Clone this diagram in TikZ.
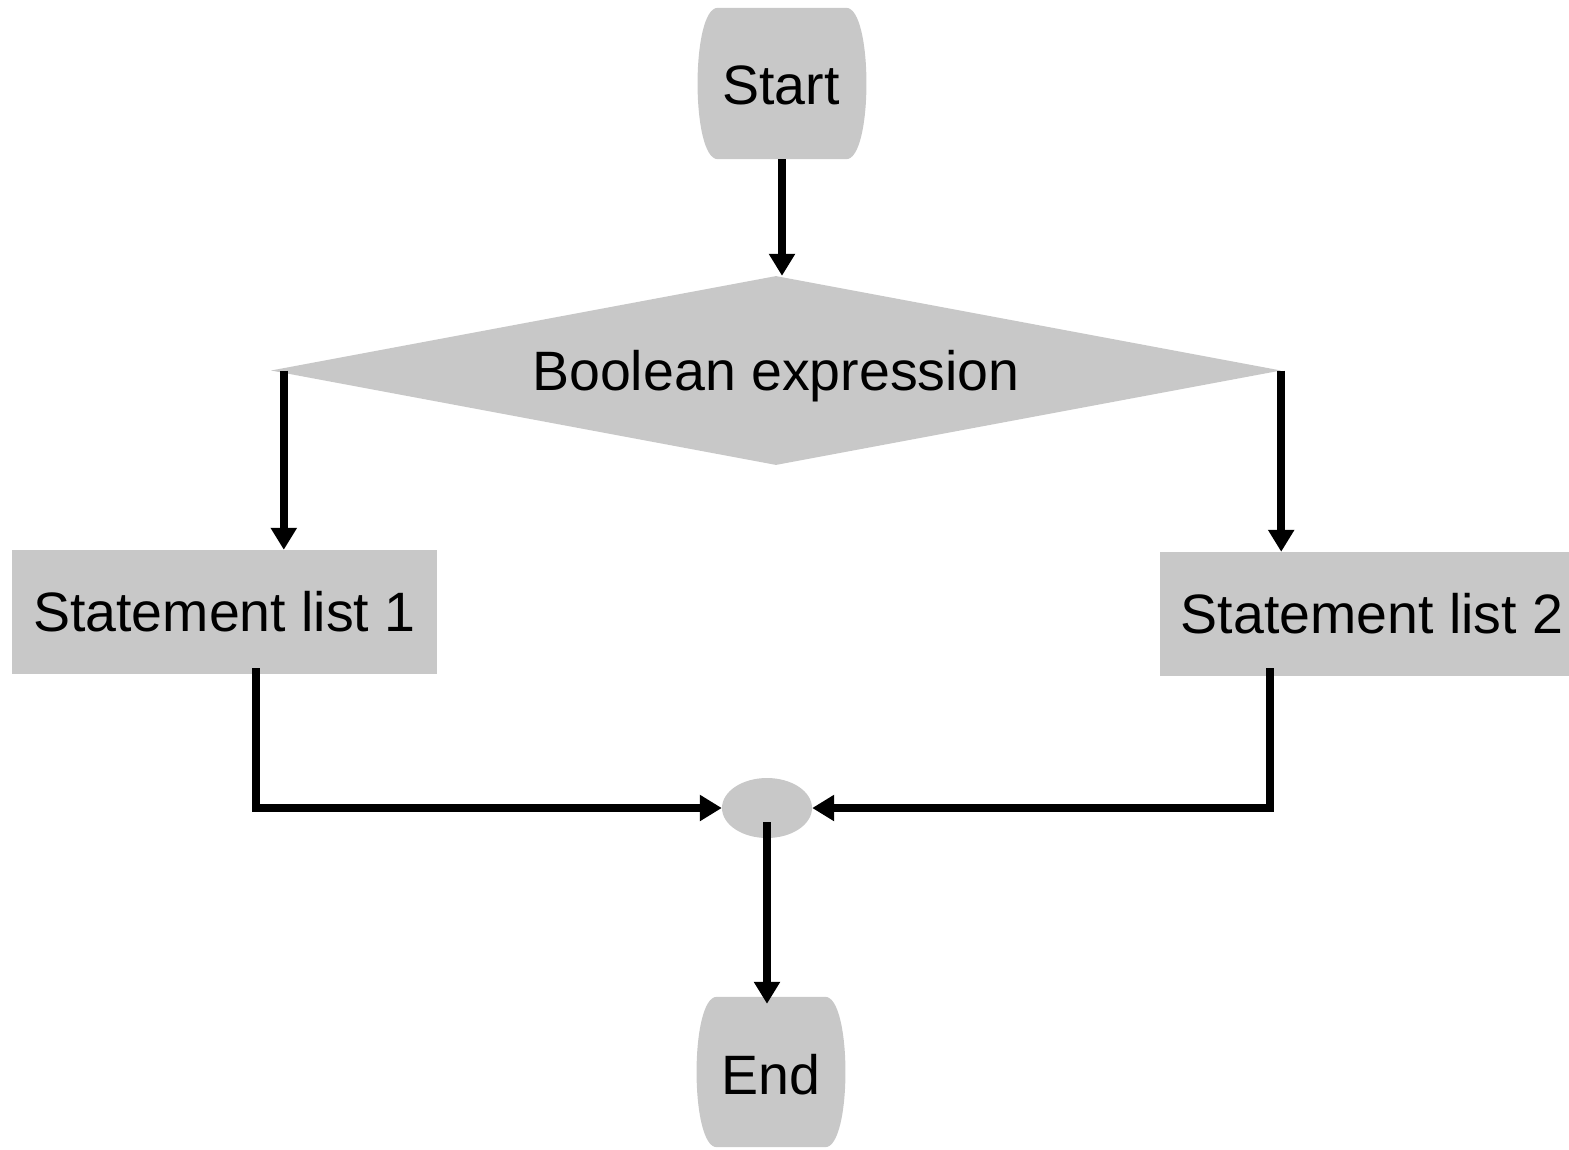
\documentclass[tikz,border=0pt]{standalone}
\usepackage{fontspec}
\setmainfont{Liberation Sans}
\usetikzlibrary{shapes.geometric,arrows.meta,calc}
\definecolor{boxgray}{RGB}{200,200,200}
\tikzset{
  label font/.style={font=\fontsize{55.5}{62}\selectfont},
  terminal/.style={label font, inner sep=0pt},
  decision/.style={diamond, fill=boxgray, label font, inner sep=0pt, aspect=5.34,
                   text depth=0pt, minimum width=1010pt, minimum height=189pt},
  stmtbox/.style={rectangle, fill=boxgray, label font, inner sep=0pt,
                  minimum width=425pt, minimum height=124pt},
  joinpt/.style={ellipse, fill=boxgray, inner sep=0pt, minimum width=90pt, minimum height=60pt},
  conn/.style={line width=8pt, -{Triangle[width=25pt,length=22pt]}},
}
% barrel-shaped terminal outline filled behind a named node
\newcommand{\barrelfill}[1]{%
  \fill[boxgray] ([xshift=20pt]#1.north west) -- ([xshift=-20pt]#1.north east)
    .. controls ([xshift=7pt]#1.north east) and ([xshift=7pt]#1.south east) .. ([xshift=-20pt]#1.south east)
    -- ([xshift=20pt]#1.south west)
    .. controls ([xshift=-7pt]#1.south west) and ([xshift=-7pt]#1.north west) .. cycle;}
\begin{document}
\begin{tikzpicture}[x=1pt,y=-1pt]
\useasboundingbox (0,0) rectangle (1569,1149);

% nodes
\node[terminal, minimum width=168pt, minimum height=151pt] (start) at (782,83.5) {};
\barrelfill{start}
\node[label font] at (781,85) {Start};

\node[decision] (dec) at (776,370.5) {Boolean expression};

\node[stmtbox] (s1) at (224.5,612) {Statement list 1};
\node[stmtbox, minimum width=424pt] (s2) at (1372,614) {Statement list 2};

\node[joinpt] (join) at (767,808) {};

\node[terminal, minimum width=148pt, minimum height=150pt] (end) at (771,1072) {};
\barrelfill{end}
\node[label font] at (771,1075) {End};

% connectors
\draw[conn] (start.south) -- (start.south |- dec.north);
\draw[conn] ([xshift=13pt]dec.west) -- ([xshift=13pt]dec.west |- s1.north);
\draw[conn] (dec.east) -- (dec.east |- s2.north);
\draw[conn] ([shift={(31.5pt,6pt)}]s1.south) |- (join.west);
\draw[conn] ([shift={(-102pt,8pt)}]s2.south) |- (join.east);
\draw[conn] ([yshift=-14pt]join.center) -- ($(join.center |- end.north)+(0,-7pt)$);
\end{tikzpicture}
\end{document}
